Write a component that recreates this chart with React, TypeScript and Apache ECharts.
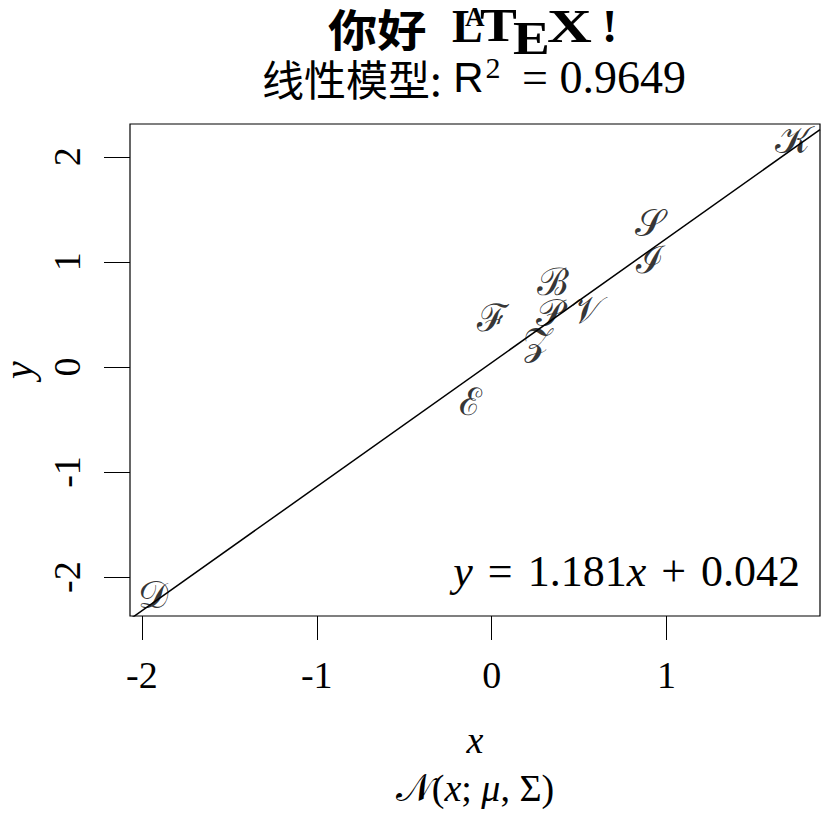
import React, { useEffect, useRef } from "react";
import * as echarts from "echarts";

const letters = ["𝒦", "𝒮", "ℐ", "ℬ", "ℱ", "𝒫", "𝒱", "𝒵", "ℰ", "𝒟"];
const xValues = [1.722, 0.905, 0.905, 0.352, 0.007, 0.333, 0.544, 0.264, -0.124, -1.936];
const yValues = [2.155, 1.366, 1.014, 0.805, 0.463, 0.51, 0.539, 0.235, -0.336, -2.17];
const slope = 1.181;
const intercept = 0.042;
const xTicks = [-2, -1, 0, 1];
const yTicks = [-2, -1, 0, 1, 2];
const xRange = [-2.068, 1.877];
const yRange = [-2.37, 2.312];

const SERIF = "'Liberation Serif', 'DejaVu Serif', 'Noto Sans CJK SC', serif";
const CJK = "'Noto Sans CJK SC', 'Liberation Serif', serif";

function t(text: string, x: number, y: number, size: number, sx = 1, extra: any = {}) {
  return {
    type: "text",
    x,
    y,
    scaleX: sx,
    style: {
      text,
      fontFamily: SERIF,
      fontSize: size,
      fontWeight: "bold",
      lineHeight: Math.round(size * 0.7),
      fill: "#000",
      textAlign: "left",
      textVerticalAlign: "middle",
      ...extra,
    },
  };
}

export default function App() {
  const ref = useRef<HTMLDivElement>(null);
  useEffect(() => {
    if (!ref.current) return;
    const chart = echarts.init(ref.current, null, { renderer: "svg" });
    const points = letters.map((l, i) => ({ name: l, value: [xValues[i], yValues[i]] }));
    const lineData = xRange.map((x) => [x, slope * x + intercept]);
    chart.setOption({
      animation: false,
      backgroundColor: "#ffffff",
      grid: {
        left: 130,
        top: 124,
        width: 690,
        height: 492,
        show: true,
        containLabel: false,
        outerBoundsMode: "none",
        borderColor: "#000",
        borderWidth: 1.2,
        backgroundColor: "transparent",
      },
      xAxis: {
        type: "value",
        position: "bottom",
        min: xRange[0],
        max: xRange[1],
        axisLine: { show: false, onZero: false },
        splitLine: { show: false },
        axisTick: {
          show: true,
          inside: false,
          length: 24,
          customValues: xTicks,
          lineStyle: { color: "#000", width: 1 },
        },
        axisLabel: {
          customValues: xTicks,
          margin: 40,
          color: "#000",
          fontFamily: SERIF,
          fontSize: 38,
          formatter: (v: number) => String(v),
        },
        name: "{i|x}\n{n|𝒩}({i|x}; {i|μ}, Σ)",
        nameLocation: "middle",
        nameGap: 100,
        nameTextStyle: {
          color: "#000",
          fontFamily: SERIF,
          fontSize: 38,
          lineHeight: 48,
          rich: {
            i: { fontStyle: "italic", fontFamily: SERIF, fontSize: 38, color: "#000", lineHeight: 48 },
            n: { fontFamily: SERIF, fontSize: 38, color: "#000", lineHeight: 48 },
          },
        },
      },
      yAxis: {
        type: "value",
        position: "left",
        min: yRange[0],
        max: yRange[1],
        axisLine: { show: false, onZero: false },
        splitLine: { show: false },
        axisTick: {
          show: true,
          inside: false,
          length: 26,
          customValues: yTicks,
          lineStyle: { color: "#000", width: 1 },
        },
        axisLabel: {
          customValues: yTicks,
          rotate: 90,
          margin: 44,
          color: "#000",
          fontFamily: SERIF,
          fontSize: 38,
          formatter: (v: number) => String(v),
        },
        name: "y",
        nameLocation: "middle",
        nameGap: 100,
        nameRotate: 90,
        nameTextStyle: { color: "#000", fontFamily: SERIF, fontSize: 40, lineHeight: 24, fontStyle: "italic" },
      },
      series: [
        {
          type: "line",
          data: lineData,
          showSymbol: false,
          symbol: "none",
          clip: true,
          lineStyle: { color: "#000", width: 1.5 },
          silent: true,
        },
        {
          type: "scatter",
          data: points,
          symbolSize: 1,
          itemStyle: { color: "rgba(0,0,0,0)" },
          label: {
            show: true,
            position: "inside",
            formatter: "{b}",
            color: "#000",
            fontFamily: SERIF,
            fontSize: 38,
          },
        },
      ],
      graphic: [
        t("你好", 328, 28, 44, 1.12, { fontFamily: CJK }),
        t("L", 452, 26, 46),
        t("A", 465, 17, 27),
        t("T", 480, 26, 46, 1.2),
        t("E", 513, 39, 46, 1.2),
        t("X", 547, 26, 46, 1.35),
        t("!", 602, 26, 46),
        {
          type: "text",
          x: 474,
          y: 77,
          style: {
            text: "{c|线性模型:} {r|R}{s|2} = 0.9649",
            fontFamily: SERIF,
            fontSize: 46,
            lineHeight: 46,
            fill: "#000",
            textAlign: "center",
            textVerticalAlign: "middle",
            rich: {
              c: { fontFamily: CJK, fontSize: 42, lineHeight: 46, fill: "#000" },
              r: { fontFamily: "'Liberation Sans', sans-serif", fontSize: 42, lineHeight: 46, fill: "#000" },
              s: { fontFamily: SERIF, fontSize: 30, fill: "#000", padding: [0, 10, 20, 2] },
            },
          },
        },
        {
          type: "text",
          x: 800,
          y: 571,
          style: {
            text: "{i|y}{o|=}1.181{i|x}{o|+}0.042",
            fontFamily: SERIF,
            fontSize: 44,
            lineHeight: 44,
            fill: "#000",
            textAlign: "right",
            textVerticalAlign: "middle",
            rich: {
              i: { fontFamily: SERIF, fontStyle: "italic", fontSize: 44, fill: "#000" },
              o: { fontFamily: SERIF, fontSize: 44, fill: "#000", padding: [0, 15, 0, 15] },
            },
          },
        },
      ],
    });
    return () => chart.dispose();
  }, []);
  return (
    <div
      ref={ref}
      style={{ position: "fixed", left: 0, top: 0, width: 821, height: 816, background: "#fff" }}
    />
  );
}
